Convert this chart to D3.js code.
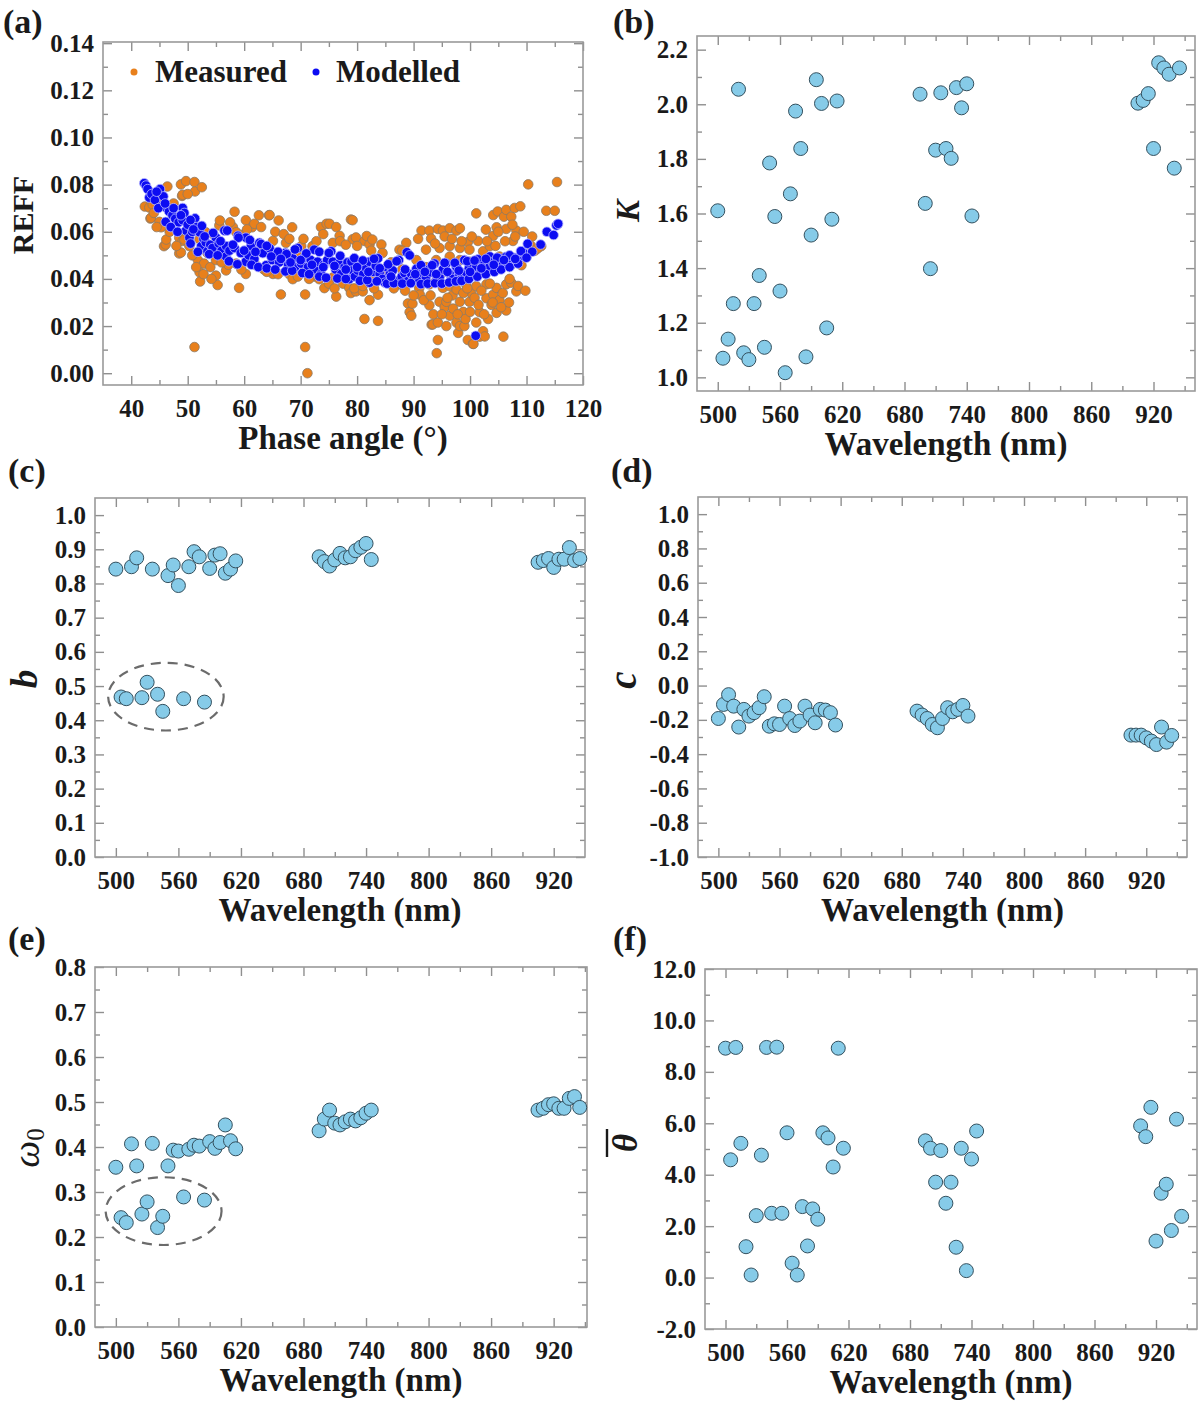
<!DOCTYPE html>
<html lang="en">
<head>
<meta charset="UTF-8">
<title>Hapke parameters vs wavelength</title>
<script src="https://d3js.org/d3.v7.min.js"></script>
<style>
  body { margin: 0; background: #fff; }
  svg { display: block; }
  .tick text { font-family: "Liberation Serif", "Times New Roman", serif; font-weight: bold; font-size: 25px; fill: #1a1a1a; }
  .tick line { stroke: #8f8f8f; stroke-width: 1.4; }
  .title { font-family: "Liberation Serif", "Times New Roman", serif; font-weight: bold; fill: #1a1a1a; }
</style>
</head>
<body>
<script>
// ---- data ----
const wavelength = [500,505,510,515,520,525,530,535,540,545,550,555,560,565,570,575,580,585,590,595,600,605,610,615,
                    695,700,705,710,715,720,725,730,735,740,745,
                    905,910,915,920,925,930,935,940,945];

const kValues = [1.61,1.07,1.14,1.27,2.055,1.09,1.065,1.27,1.373,1.11,1.785,1.589,1.316,1.017,1.672,1.975,1.838,1.075,1.521,2.09,2.003,1.181,1.579,2.012,
                 2.037,1.637,1.398,1.832,2.042,1.838,1.802,2.061,1.987,2.075,1.591,
                 2.004,2.014,2.039,1.838,2.152,2.133,2.11,1.766,2.133];

const bValues = [0.842,0.468,0.463,0.849,0.875,0.466,0.511,0.842,0.476,0.426,0.823,0.854,0.794,0.463,0.849,0.893,0.878,0.453,0.844,0.883,0.887,0.830,0.842,0.866,
                 0.878,0.864,0.851,0.869,0.888,0.875,0.878,0.896,0.906,0.917,0.870,
                 0.862,0.867,0.873,0.847,0.871,0.871,0.905,0.867,0.873];

const cValues = [-0.192,-0.110,-0.053,-0.120,-0.242,-0.139,-0.178,-0.158,-0.129,-0.065,-0.237,-0.223,-0.227,-0.120,-0.192,-0.233,-0.207,-0.120,-0.172,-0.217,-0.139,-0.143,-0.158,-0.230,
                 -0.149,-0.172,-0.192,-0.227,-0.246,-0.192,-0.129,-0.153,-0.139,-0.116,-0.178,
                 -0.289,-0.289,-0.289,-0.305,-0.324,-0.344,-0.242,-0.330,-0.291];

const w0Values = [0.355,0.243,0.232,0.407,0.358,0.251,0.278,0.408,0.221,0.246,0.358,0.393,0.391,0.289,0.395,0.404,0.402,0.282,0.412,0.397,0.410,0.449,0.414,0.396,
                  0.436,0.462,0.482,0.453,0.449,0.456,0.462,0.458,0.465,0.475,0.482,
                  0.482,0.486,0.494,0.496,0.486,0.486,0.508,0.512,0.488];

const thetaValues = [8.92,4.58,8.95,5.22,1.20,0.10,2.41,4.76,8.95,2.50,8.96,2.50,5.63,0.56,0.10,2.76,1.23,2.67,2.27,5.63,5.43,4.30,8.92,5.03,
                     5.32,5.03,3.71,4.94,2.89,3.71,1.18,5.03,0.27,4.61,5.70,
                     5.90,5.48,6.62,1.42,3.28,3.63,1.83,6.16,2.38];

// dashed ellipses marking the low-b / low-w0 group: [centre wl, centre value, half-width nm, half-height]
const ellipseB = [548, 0.469, 55.4, 0.099];
const ellipseW0 = [545.8, 0.2575, 55.6, 0.0753];

// panel (a): [phase angle, REFF]
const measured = [
[42.4,0.0707],[43.2,0.0703],[43.4,0.0656],[43.5,0.0659],[43.8,0.0715],[45.0,0.0642],[45.3,0.0619],[45.4,0.0737],[45.8,0.0539],[46.1,0.0546],
[46.2,0.0567],[46.4,0.0792],[47.2,0.0700],[48.5,0.0575],[48.5,0.0508],[48.8,0.0801],[48.8,0.0512],[49.0,0.0752],[49.1,0.0757],[49.1,0.0561],
[49.4,0.0567],[49.7,0.0815],[50.3,0.0539],[51.2,0.0811],[51.2,0.0111],[51.3,0.0771],[51.8,0.0480],[52.1,0.0568],[52.1,0.0428],[52.2,0.0389],
[52.5,0.0789],[52.9,0.0465],[53.2,0.0598],[54.0,0.0450],[55.0,0.0480],[55.0,0.0414],[55.3,0.0374],[55.6,0.0627],[55.7,0.0648],[56.8,0.0436],
[57.2,0.0460],[58.0,0.0620],[58.3,0.0685],[58.6,0.0598],[58.6,0.0465],[59.1,0.0362],[60.0,0.0590],[60.3,0.0649],[60.3,0.0421],[61.4,0.0619],
[61.8,0.0634],[62.6,0.0670],[62.7,0.0539],[63.5,0.0440],[64.4,0.0670],[64.5,0.0671],[65.1,0.0561],[65.1,0.0421],[66.1,0.0648],[66.5,0.0334],
[67.4,0.0553],[68.0,0.0420],[68.5,0.0619],[68.6,0.0399],[69.2,0.0509],[70.1,0.0539],[70.8,0.0334],[70.8,0.0111],[71.2,0.0000],[72.1,0.0539],
[72.5,0.0410],[73.3,0.0399],[73.6,0.0620],[74.2,0.0361],[74.6,0.0634],[75.1,0.0634],[75.7,0.0553],[75.7,0.0406],[76.3,0.0620],[76.3,0.0325],
[76.9,0.0583],[77.5,0.0380],[78.6,0.0362],[78.9,0.0340],[78.9,0.0652],[79.2,0.0649],[79.2,0.0568],[79.8,0.0576],[79.8,0.0347],[80.4,0.0406],
[81.0,0.0347],[81.3,0.0561],[81.3,0.0230],[81.7,0.0582],[82.2,0.0546],[82.2,0.0310],[82.2,0.0406],[82.7,0.0567],[83.7,0.0333],[83.7,0.0222],
[84.3,0.0546],[84.6,0.0421],[85.7,0.0406],[86.0,0.0470],[87.5,0.0524],[87.5,0.0377],[88.0,0.0440],[88.7,0.0553],[89.0,0.0296],[89.3,0.0259],
[89.6,0.0244],[89.8,0.0295],[90.5,0.0480],[91.0,0.0360],[91.1,0.0333],[91.4,0.0605],[92.2,0.0450],[92.2,0.0524],[92.8,0.0605],[92.8,0.0377],
[92.8,0.0288],[93.1,0.0571],[93.2,0.0206],[93.4,0.0207],[93.5,0.0250],[94.0,0.0391],[94.0,0.0480],[94.1,0.0085],[94.3,0.0612],[94.3,0.0215],
[94.3,0.0141],[94.6,0.0303],[94.6,0.0531],[95.2,0.0605],[95.2,0.0362],[95.5,0.0280],[95.8,0.0303],[95.8,0.0200],[96.4,0.0615],[96.4,0.0369],
[96.4,0.0244],[96.4,0.0495],[96.4,0.0539],[96.9,0.0330],[97.0,0.0274],[97.6,0.0605],[97.6,0.0355],[97.6,0.0215],[97.9,0.0171],[98.2,0.0615],
[98.2,0.0303],[98.2,0.0200],[98.2,0.0480],[98.2,0.0531],[98.8,0.0260],[99.0,0.0200],[99.3,0.0377],[99.6,0.0556],[99.6,0.0141],[99.9,0.0303],
[99.9,0.0473],[99.9,0.0524],[100.2,0.0340],[100.5,0.0125],[100.6,0.0124],[101.1,0.0678],[101.1,0.0369],[101.1,0.0215],[101.4,0.0561],[101.7,0.0259],
[101.7,0.0480],[101.7,0.0155],[102.3,0.0178],[102.3,0.0517],[102.6,0.0156],[102.8,0.0609],[102.9,0.0377],[102.9,0.0318],[103.2,0.0230],[103.5,0.0539],
[103.8,0.0290],[104.1,0.0671],[104.1,0.0583],[104.1,0.0333],[104.7,0.0619],[104.7,0.0362],[104.7,0.0256],[104.9,0.0686],[105.2,0.0310],[105.2,0.0495],
[105.8,0.0340],[105.9,0.0155],[106.0,0.0664],[106.4,0.0693],[106.4,0.0612],[106.4,0.0377],[106.4,0.0266],[106.9,0.0300],[107.3,0.0664],[107.3,0.0384],
[107.6,0.0561],[107.6,0.0465],[107.9,0.0701],[108.2,0.0605],[108.2,0.0347],[108.9,0.0708],[109.1,0.0458],[110.0,0.0495],[110.3,0.0801],[111.0,0.0580],
[112.6,0.0539],[113.5,0.0689],[115.0,0.0689],[115.4,0.0811],
[44.0,0.0680],[44.5,0.0620],[46.8,0.0600],[47.5,0.0720],[48.0,0.0540],[50.0,0.0760],[50.8,0.0500],[51.5,0.0450],[52.8,0.0420],[53.5,0.0510],
[54.2,0.0400],[54.5,0.0590],[56.0,0.0470],[57.5,0.0640],[59.5,0.0440],[60.5,0.0610],[62.0,0.0460],[63.0,0.0620],[64.0,0.0430],[65.5,0.0600],
[66.0,0.0420],[67.0,0.0590],[68.0,0.0570],[69.5,0.0410],[70.5,0.0570],[71.5,0.0400],[72.8,0.0560],[74.0,0.0590],[75.0,0.0380],[76.0,0.0360],
[77.0,0.0560],[78.0,0.0545],[79.5,0.0360],[80.0,0.0540],[81.0,0.0370],[82.5,0.0520],[83.0,0.0360],[84.5,0.0510],[85.0,0.0390],[86.5,0.0360],
[88.0,0.0520],[88.5,0.0350],[90.0,0.0330],[90.8,0.0570],[91.8,0.0310],[93.0,0.0330],[93.8,0.0550],[94.8,0.0420],[95.0,0.0250],[95.5,0.0580],
[96.0,0.0320],[96.8,0.0570],[97.2,0.0390],[97.8,0.0250],[98.5,0.0560],[98.8,0.0340],[99.2,0.0230],[99.5,0.0360],[100.0,0.0260],[100.3,0.0580],
[100.8,0.0320],[101.5,0.0290],[102.0,0.0350],[102.5,0.0250],[103.0,0.0560],[103.5,0.0380],[104.0,0.0300],[104.5,0.0540],[105.0,0.0600],[105.5,0.0280],
[106.2,0.0560],[107.0,0.0400],[107.5,0.0630],[108.0,0.0580],[108.5,0.0370],[109.5,0.0600],[109.8,0.0350],[110.8,0.0540],[111.5,0.0520],[112.0,0.0530]
];

const modelled = [
[42.3,0.0806],[42.6,0.0796],[42.9,0.0781],[43.2,0.0745],[43.6,0.0760],[44.2,0.0735],[45.1,0.0781],[45.4,0.0708],[45.7,0.0750],[46.1,0.0642],
[46.3,0.0700],[46.7,0.0686],[47.3,0.0670],[47.8,0.0655],[48.4,0.0640],[49.1,0.0701],[49.1,0.0649],[49.4,0.0680],[49.7,0.0605],[50.0,0.0630],
[50.3,0.0575],[50.8,0.0600],[51.3,0.0657],[51.6,0.0620],[52.1,0.0598],[52.4,0.0539],[52.8,0.0570],[53.2,0.0555],[53.5,0.0517],[54.0,0.0545],
[54.4,0.0531],[55.0,0.0575],[55.5,0.0550],[56.0,0.0520],[56.5,0.0605],[56.8,0.0539],[56.8,0.0495],[57.4,0.0520],[58.3,0.0531],[58.9,0.0583],
[59.4,0.0510],[60.3,0.0575],[60.3,0.0473],[60.8,0.0500],[61.2,0.0539],[61.8,0.0485],[62.7,0.0553],[63.3,0.0509],[63.9,0.0458],[64.5,0.0530],
[65.0,0.0480],[65.6,0.0502],[66.2,0.0470],[66.8,0.0495],[67.3,0.0510],[67.8,0.0460],[68.6,0.0487],[69.0,0.0450],[69.5,0.0531],[70.1,0.0465],
[70.6,0.0490],[71.3,0.0450],[71.8,0.0480],[72.4,0.0524],[72.7,0.0440],[73.0,0.0473],[73.6,0.0421],[74.1,0.0460],[74.7,0.0480],[75.4,0.0517],
[75.7,0.0473],[76.2,0.0440],[76.8,0.0465],[77.2,0.0421],[77.8,0.0450],[78.3,0.0470],[78.6,0.0399],[79.0,0.0473],[79.2,0.0436],[79.6,0.0410],
[80.1,0.0436],[80.6,0.0460],[81.1,0.0420],[81.6,0.0445],[82.2,0.0473],[82.2,0.0384],[82.8,0.0430],[83.3,0.0455],[83.7,0.0487],[84.0,0.0421],
[84.5,0.0400],[84.9,0.0384],[85.2,0.0450],[85.8,0.0420],[86.3,0.0436],[86.9,0.0391],[87.4,0.0480],[87.9,0.0410],[88.4,0.0425],[88.8,0.0513],
[89.0,0.0391],[89.6,0.0420],[90.0,0.0400],[90.5,0.0443],[91.0,0.0390],[91.6,0.0425],[92.2,0.0406],[92.7,0.0440],[93.1,0.0428],[93.7,0.0465],
[94.1,0.0395],[94.6,0.0406],[95.2,0.0440],[95.8,0.0465],[96.4,0.0421],[96.9,0.0400],[97.6,0.0450],[98.1,0.0420],[98.6,0.0405],[99.0,0.0480],
[99.3,0.0428],[99.8,0.0445],[100.4,0.0420],[101.0,0.0159],[101.1,0.0450],[101.4,0.0483],[101.9,0.0430],[102.5,0.0460],[103.0,0.0440],[103.4,0.0450],
[103.5,0.0495],[104.0,0.0470],[104.6,0.0455],[105.2,0.0487],[105.8,0.0470],[106.4,0.0494],[106.9,0.0475],[107.3,0.0462],[107.8,0.0490],[108.2,0.0472],
[108.8,0.0495],[109.4,0.0512],[110.2,0.0549],[111.0,0.0515],[112.5,0.0546],[113.6,0.0600],[114.8,0.0586],[115.3,0.0627],[115.6,0.0634],
[44.5,0.0770],[47.5,0.0700],[50.5,0.0650],[52.5,0.0625],[54.5,0.0595],[57.0,0.0605],[59.0,0.0575],[61.0,0.0565],[63.0,0.0548],[64.0,0.0540],
[66.0,0.0515],[67.5,0.0505],[69.0,0.0525],[71.0,0.0508],[73.3,0.0515],[75.0,0.0510],[77.0,0.0498],[79.5,0.0488],[81.0,0.0478],[83.0,0.0485],
[85.5,0.0462],[87.0,0.0475],[89.3,0.0500],[91.3,0.0458],[93.3,0.0458],[95.5,0.0468],[97.3,0.0468],[99.5,0.0475],[100.8,0.0478],[102.8,0.0485],
[104.8,0.0490],[107.0,0.0500],[109.0,0.0518],
[44.8,0.0700],[47.0,0.0620],[48.2,0.0600],[50.5,0.0550],[51.8,0.0515],[53.8,0.0505],[55.3,0.0500],[57.3,0.0475],[58.8,0.0462],[61.3,0.0460],
[62.5,0.0450],[64.0,0.0445],[65.5,0.0440],[67.3,0.0432],[68.5,0.0435],[70.3,0.0425],[71.5,0.0420],[73.3,0.0410],[74.5,0.0405],[76.5,0.0402],
[78.0,0.0400],[80.5,0.0392],[81.8,0.0395],[83.5,0.0390],[85.3,0.0380],[86.5,0.0382],[88.0,0.0380],[89.5,0.0382],[91.3,0.0378],[92.5,0.0380],
[93.8,0.0382],[95.0,0.0380],[96.3,0.0385],[97.5,0.0390],[98.5,0.0392],[99.8,0.0400],[101.3,0.0410],[102.8,0.0420],[104.3,0.0430],[105.5,0.0440],
[107.0,0.0450],[108.5,0.0465],[110.0,0.0490],
[46.0,0.0720],[48.8,0.0670],[51.0,0.0610],[53.0,0.0580],[55.8,0.0560],[58.0,0.0545],[60.0,0.0520],[62.0,0.0515],[64.8,0.0495],[66.5,0.0485],
[68.2,0.0470],[70.0,0.0480],[72.0,0.0460],[74.0,0.0450],[76.0,0.0455],[78.0,0.0440],[80.0,0.0450],[82.0,0.0430],[84.0,0.0445],[86.0,0.0410],
[88.5,0.0440],[90.3,0.0420],[92.0,0.0430],[94.0,0.0420],[96.0,0.0430],[98.0,0.0435],[100.0,0.0430],[102.0,0.0445],[104.2,0.0460],[106.0,0.0480],
[108.0,0.0485]
];

// tick labels
const phaseTicks = [40,50,60,70,80,90,100,110,120];
const reffTicks = [0.00,0.02,0.04,0.06,0.08,0.10,0.12,0.14];
const wlTicks = [500,560,620,680,740,800,860,920];
const kTicks = [1.0,1.2,1.4,1.6,1.8,2.0,2.2];
const bTicks = [0.0,0.1,0.2,0.3,0.4,0.5,0.6,0.7,0.8,0.9,1.0];
const cTicks = [-1.0,-0.8,-0.6,-0.4,-0.2,0.0,0.2,0.4,0.6,0.8,1.0];
const w0Ticks = [0.0,0.1,0.2,0.3,0.4,0.5,0.6,0.7,0.8];
const thetaTicks = [-2.0,0.0,2.0,4.0,6.0,8.0,10.0,12.0];

// ---- drawing ----
const svg = d3.select('body').append('svg').attr('width', 1200).attr('height', 1405);
const frameColor = '#9a9a9a';
const dotFill = '#86cbe8', dotStroke = '#34505e';

function minorsOf(ticks, domain) {
  const step = (ticks[1] - ticks[0]) / 2;
  const out = [];
  ticks.forEach(t => { out.push(t - step); out.push(t + step); });
  return Array.from(new Set(out.map(v => +v.toFixed(6)))).filter(v => v > domain[0] + 1e-9 && v < domain[1] - 1e-9 && !ticks.includes(v));
}

function panel(p) {
  const g = svg.append('g');
  const x = d3.scaleLinear().domain(p.xDomain).range([p.x0, p.x1]);
  const y = d3.scaleLinear().domain(p.yDomain).range([p.y1, p.y0]);

  const xMinor = minorsOf(p.xTicks, p.xDomain);
  const yMinor = minorsOf(p.yTicks, p.yDomain);

  const addAxis = (gen, tr, vals, size, fmt, pad) => {
    const a = g.append('g').attr('transform', tr)
      .call(gen.tickValues(vals).tickSizeInner(-size).tickSizeOuter(0).tickPadding(pad).tickFormat(fmt));
    a.select('.domain').remove();
    return a;
  };
  const blank = () => '';
  addAxis(d3.axisBottom(x), `translate(0,${p.y1})`, p.xTicks, 9, p.xFmt, 14);
  addAxis(d3.axisBottom(x), `translate(0,${p.y1})`, xMinor, 5, blank, 0);
  addAxis(d3.axisTop(x), `translate(0,${p.y0})`, p.xTicks, 9, blank, 0);
  addAxis(d3.axisTop(x), `translate(0,${p.y0})`, xMinor, 5, blank, 0);
  addAxis(d3.axisLeft(y), `translate(${p.x0},0)`, p.yTicks, 9, p.yFmt, 9);
  addAxis(d3.axisLeft(y), `translate(${p.x0},0)`, yMinor, 5, blank, 0);
  addAxis(d3.axisRight(y), `translate(${p.x1},0)`, p.yTicks, 9, blank, 0);
  addAxis(d3.axisRight(y), `translate(${p.x1},0)`, yMinor, 5, blank, 0);

  g.append('rect')
    .attr('x', p.x0).attr('y', p.y0)
    .attr('width', p.x1 - p.x0).attr('height', p.y1 - p.y0)
    .attr('fill', 'none').attr('stroke', frameColor).attr('stroke-width', 1.6);

  // panel letter
  g.append('text').attr('class', 'title').attr('x', p.lx).attr('y', p.ly)
    .style('font-size', '34px').text(p.letter);

  // x title
  g.append('text').attr('class', 'title')
    .attr('x', (p.x0 + p.x1) / 2).attr('y', p.y1 + 64)
    .attr('text-anchor', 'middle').style('font-size', '33px').text(p.xTitle);

  return { g, x, y };
}

function wlPanel(p, values) {
  const P = panel(p);
  if (p.ellipse) {
    const e = p.ellipse;
    P.g.append('ellipse')
      .attr('cx', P.x(e[0])).attr('cy', P.y(e[1]))
      .attr('rx', P.x(e[0] + e[2]) - P.x(e[0]))
      .attr('ry', P.y(e[1] - e[3]) - P.y(e[1]))
      .attr('fill', 'none').attr('stroke', '#6b6b6b')
      .attr('stroke-width', 2.2).attr('stroke-dasharray', '10,7');
  }
  P.g.append('g').selectAll('circle')
    .data(wavelength.map((w, i) => [w, values[i]]))
    .join('circle')
    .attr('cx', d => P.x(d[0])).attr('cy', d => P.y(d[1]))
    .attr('r', 7).attr('fill', dotFill)
    .attr('stroke', dotStroke).attr('stroke-width', 1);
  return P;
}

const f1 = d3.format('.1f');
const fInt = d3.format('d');
const minusHyphen = f => v => f(v).replace('\u2212', '-');

// (a)
const A = panel({ letter: '(a)', lx: 3, ly: 33, x0: 103, x1: 583, y0: 42, y1: 385,
  xDomain: [35, 120], yDomain: [-0.005, 0.1405], xTicks: phaseTicks, yTicks: reffTicks,
  xFmt: fInt, yFmt: d3.format('.2f'), xTitle: 'Phase angle (\u00b0)' });
A.g.append('g').selectAll('circle').data(measured).join('circle')
  .attr('cx', d => A.x(d[0])).attr('cy', d => A.y(d[1])).attr('r', 4.8)
  .attr('fill', '#e8801c').attr('stroke', '#8c7a66').attr('stroke-width', 0.8);
A.g.append('g').selectAll('circle').data(modelled).join('circle')
  .attr('cx', d => A.x(d[0])).attr('cy', d => A.y(d[1])).attr('r', 4.8)
  .attr('fill', '#0c0cf2').attr('stroke', '#b9b9ff').attr('stroke-width', 0.8);
A.g.append('circle').attr('cx', 134).attr('cy', 72).attr('r', 3.5).attr('fill', '#e8801c');
A.g.append('text').attr('class', 'title').attr('x', 155).attr('y', 82).style('font-size', '31px').text('Measured');
A.g.append('circle').attr('cx', 316).attr('cy', 72).attr('r', 3.5).attr('fill', '#0c0cf2');
A.g.append('text').attr('class', 'title').attr('x', 336).attr('y', 82).style('font-size', '31px').text('Modelled');
A.g.append('text').attr('class', 'title').attr('transform', 'translate(33,215) rotate(-90)')
  .attr('text-anchor', 'middle').style('font-size', '30px').text('REFF');

// (b)
const B = wlPanel({ letter: '(b)', lx: 613, ly: 33, x0: 697, x1: 1195, y0: 36, y1: 391,
  xDomain: [480, 960], yDomain: [0.95, 2.25], xTicks: wlTicks, yTicks: kTicks,
  xFmt: fInt, yFmt: f1, xTitle: 'Wavelength (nm)' }, kValues);
B.g.append('text').attr('class', 'title').attr('transform', 'translate(639,211) rotate(-90)')
  .attr('text-anchor', 'middle').style('font-size', '33px').style('font-style', 'italic').text('K');

// (c)
const C = wlPanel({ letter: '(c)', lx: 8, ly: 482, x0: 95, x1: 585, y0: 498, y1: 857,
  xDomain: [480, 950], yDomain: [0, 1.05], xTicks: wlTicks, yTicks: bTicks,
  xFmt: fInt, yFmt: f1, xTitle: 'Wavelength (nm)', ellipse: ellipseB }, bValues);
C.g.append('text').attr('class', 'title').attr('transform', 'translate(37,679) rotate(-90)')
  .attr('text-anchor', 'middle').style('font-size', '37px').style('font-style', 'italic').text('b');

// (d)
const D = wlPanel({ letter: '(d)', lx: 611, ly: 482, x0: 698, x1: 1187, y0: 497, y1: 857,
  xDomain: [480, 960], yDomain: [-1.0, 1.1], xTicks: wlTicks, yTicks: cTicks,
  xFmt: fInt, yFmt: minusHyphen(f1), xTitle: 'Wavelength (nm)' }, cValues);
D.g.append('text').attr('class', 'title').attr('transform', 'translate(636,680) rotate(-90)')
  .attr('text-anchor', 'middle').style('font-size', '39px').style('font-style', 'italic').text('c');

// (e)
const E = wlPanel({ letter: '(e)', lx: 8, ly: 950, x0: 95, x1: 587, y0: 967, y1: 1327,
  xDomain: [480, 952], yDomain: [0, 0.8], xTicks: wlTicks, yTicks: w0Ticks,
  xFmt: fInt, yFmt: f1, xTitle: 'Wavelength (nm)', ellipse: ellipseW0 }, w0Values);
const wt = E.g.append('text').attr('transform', 'translate(39,1148) rotate(-90)')
  .attr('text-anchor', 'middle')
  .style('font-family', '"Liberation Serif", "Times New Roman", serif').style('fill', '#1a1a1a');
wt.append('tspan').style('font-size', '38px').style('font-style', 'italic').text('\u03c9');
wt.append('tspan').style('font-size', '25px').attr('dy', 5).text('0');

// (f)
const F = wlPanel({ letter: '(f)', lx: 613, ly: 950, x0: 705, x1: 1197, y0: 969, y1: 1329,
  xDomain: [480, 960], yDomain: [-2, 12], xTicks: wlTicks, yTicks: thetaTicks,
  xFmt: fInt, yFmt: minusHyphen(f1), xTitle: 'Wavelength (nm)' }, thetaValues);
const th = F.g.append('g').attr('transform', 'translate(637,1143) rotate(-90)');
th.append('text').attr('class', 'title').attr('text-anchor', 'middle')
  .style('font-size', '35px').style('font-style', 'italic').text('\u03b8');
th.append('line').attr('x1', -14).attr('x2', 14).attr('y1', -30).attr('y2', -30)
  .attr('stroke', '#1a1a1a').attr('stroke-width', 2.4);
</script>
</body>
</html>
